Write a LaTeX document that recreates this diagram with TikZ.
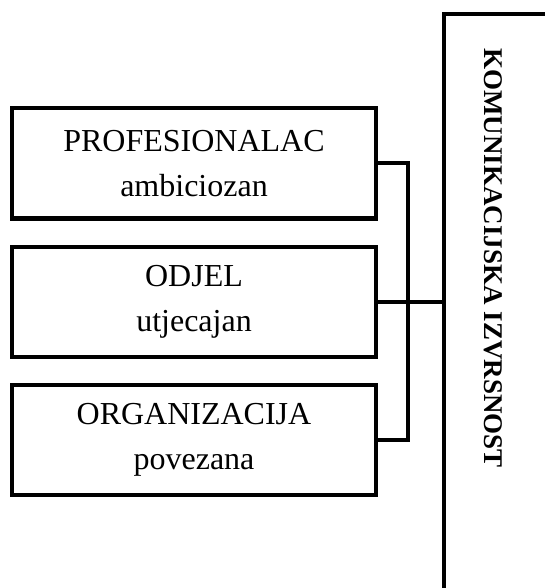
\documentclass[tikz,border=0pt]{standalone}
\usepackage{fontspec}
\setmainfont{Liberation Serif}
\usetikzlibrary{positioning}

\begin{document}
\begin{tikzpicture}[x=0.5pt,y=-0.5pt,
			level/.style={rectangle, draw=black, line width=2pt, minimum width=182pt, minimum height=55pt, align=center, font=\fontsize{16}{22.5}\selectfont},
			wide/.style={rectangle, draw=black, line width=2pt, minimum width=100pt, minimum height=330pt, anchor=north west},
			title/.style={rotate=-90, font=\fontsize{13.5}{16}\selectfont\bfseries},
			link/.style={line width=2pt}
		]
		\useasboundingbox (0,0) rectangle (545,588);
		\clip (0,0) rectangle (545,588);
		\node[level] (prof) at (194,163.5) {PROFESIONALAC\\ambiciozan};
		\node[level] (odjel) [below=12pt of prof] {ODJEL\\utjecajan};
		\node[level] (org) [below=12pt of odjel] {ORGANIZACIJA\\povezana};
		\node[wide] (komun) at (442,12) {};
		\node[title] (naslov) at (493,258) {KOMUNIKACIJSKA IZVRSNOST};
		\coordinate (spoj) at (408,163.5);
		\draw[link] (prof.east) -- (spoj) |- (org.east);
		\draw[link] (odjel.east) -- (odjel.east -| komun.west);
		\end{tikzpicture}
\end{document}
